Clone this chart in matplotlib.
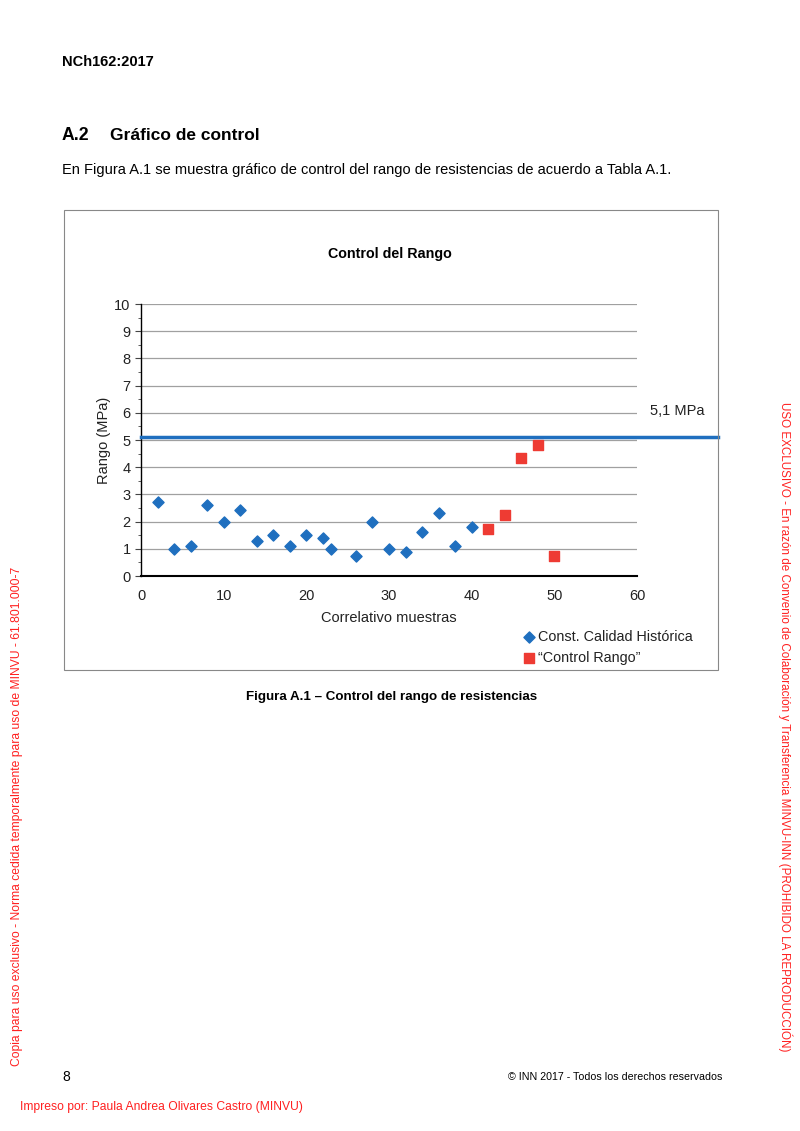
import matplotlib.pyplot as plt
from matplotlib.patches import Rectangle

plt.rcParams['font.family'] = ['Liberation Sans', 'DejaVu Sans']

# datos
x_hist = [2, 4, 6, 8, 10, 12, 14, 16, 18, 20, 22, 23, 26, 28, 30, 32, 34, 36, 38, 40]
y_hist = [2.72, 1.0, 1.1, 2.6, 2.0, 2.42, 1.28, 1.5, 1.1, 1.5, 1.4, 1.0, 0.73, 2.0,
          1.0, 0.9, 1.6, 2.33, 1.1, 1.8]
x_ctrl = [42, 44, 46, 48, 50]
y_ctrl = [1.73, 2.25, 4.33, 4.82, 0.73]
limite = 5.1
xticks = [0, 10, 20, 30, 40, 50, 60]
yticks = list(range(0, 11))

W, H = 800, 1131
fig = plt.figure(figsize=(W / 100, H / 100), dpi=100)

def fx(px):
    return px / W

def fy(py):
    return 1 - py / H

txt = '#222222'

# encabezados de la pagina
fig.text(fx(62), fy(62), 'NCh162:2017', fontsize=10.5, fontweight='bold', va='center')
fig.text(fx(62), fy(135), 'A.2', fontsize=12.7, fontweight='bold', va='center')
fig.text(fx(110), fy(135), 'Gráfico de control', fontsize=12.5, fontweight='bold', va='center')
fig.text(fx(62), fy(170), 'En Figura A.1 se muestra gráfico de control del rango de resistencias de acuerdo a Tabla A.1.',
         fontsize=10.5, va='center')

# marco del grafico
fig.patches.append(Rectangle((fx(64), fy(670)), fx(718) - fx(64), fy(210) - fy(670),
                             transform=fig.transFigure, fill=False, edgecolor='#888888', lw=0.8))

fig.text(fx(390), fy(254), 'Control del Rango', fontsize=10.3, fontweight='bold', ha='center', va='center')

ax = fig.add_axes([fx(141), fy(576), fx(637) - fx(141), fy(304) - fy(576)])
ax.set_xlim(0, 60)
ax.set_ylim(0, 10)
ax.set_xticks(xticks)
ax.set_yticks(yticks)
ax.set_yticks([v + 0.5 for v in yticks[:-1]], minor=True)
ax.grid(axis='y', color='#a0a0a0', lw=0.9)
ax.set_axisbelow(True)
for s in ['top', 'right']:
    ax.spines[s].set_visible(False)
ax.spines['left'].set_linewidth(1.0)
ax.spines['bottom'].set_linewidth(1.5)
ax.tick_params(axis='y', direction='out', length=4, labelsize=10.5, color='#444444', labelcolor=txt)
ax.tick_params(axis='y', which='minor', length=2.5, color='#444444')
ax.tick_params(axis='x', length=0, labelsize=10.5, pad=9, labelcolor=txt)

ax.scatter(x_hist, y_hist, marker='D', s=32, color='#1f6fbf', label='Const. Calidad Histórica', zorder=3)
ax.scatter(x_ctrl, y_ctrl, marker='s', s=55, color='#ee3b33', label='“Control Rango”', zorder=3)

# linea de limite, sale fuera del area de trazado
xr = (718 - 141) / (637 - 141)
ax.plot([0, xr], [limite, limite], color='#1f6fbf', lw=2.5, transform=ax.get_yaxis_transform(),
        clip_on=False, zorder=4)
fig.text(fx(650), fy(411), '5,1 MPa', fontsize=10.5, va='center', color=txt)

ax.set_xlabel('Correlativo muestras', fontsize=10.5, labelpad=6, color=txt)
ax.set_ylabel('Rango (MPa)', fontsize=10.5, labelpad=2, color=txt)

leg = ax.legend(loc='upper left', bbox_to_anchor=(fx(515), fy(623)), bbox_transform=fig.transFigure,
                frameon=False, fontsize=10.4, handletextpad=0.1, handlelength=1.0, labelspacing=0.45,
                borderpad=0)
for t in leg.get_texts():
    t.set_color(txt)

fig.text(fx(392), fy(697), 'Figura A.1 – Control del rango de resistencias', fontsize=9.6,
         fontweight='bold', ha='center', va='center')

# pie de pagina y marcas
fig.text(fx(62), fy(1077), '8', fontsize=10, va='center')
fig.text(fx(722), fy(1077), '© INN 2017 - Todos los derechos reservados', fontsize=7.7, ha='right', va='center')
fig.text(fx(20), fy(1107), 'Impreso por: Paula Andrea Olivares Castro (MINVU)', fontsize=8.7,
         color='#ff2020', va='center')
fig.text(fx(17), fy(816), 'Copia para uso exclusivo - Norma cedida temporalmente para uso de MINVU - 61.801.000-7',
         fontsize=8.7, color='#ff2020', rotation=90, ha='center', va='center')
fig.text(fx(785), fy(727), 'USO EXCLUSIVO - En razón de Convenio de Colaboración y Transferencia MINVU-INN (PROHIBIDO LA REPRODUCCIÓN)',
         fontsize=8.4, color='#ff2020', rotation=-90, ha='center', va='center')

fig.savefig('out.png', dpi=100)
